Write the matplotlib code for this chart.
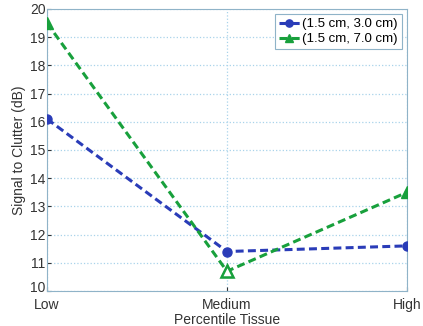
import matplotlib
matplotlib.use("Agg")
import matplotlib.pyplot as plt
import matplotlib.transforms as mtransforms

categories = ["Low", "Medium", "High"]
near_values = [16.1, 11.4, 11.6]
far_values = [19.5, 10.7, 13.5]
series_labels = ["(1.5 cm, 3.0 cm)", "(1.5 cm, 7.0 cm)"]
y_ticks = list(range(10, 21))

plt.rcParams["font.family"] = ["Liberation Sans", "DejaVu Sans"]

fig = plt.figure(figsize=(4.23, 3.26), dpi=100)
ax = fig.add_axes([47 / 423, 1 - 291 / 326, 360 / 423, 282 / 326])

x = list(range(len(categories)))
blue = "#2a3cb8"
green = "#18a03c"

ax.plot(x, near_values, linestyle=(0, (2.6, 1.4)), color=blue, lw=2.2,
        marker="o", markersize=6.5, markerfacecolor=blue, markeredgecolor=blue,
        label=series_labels[0], zorder=3)
ax.plot(x, far_values, linestyle=(0, (2.6, 1.4)), color=green, lw=2.2,
        marker="^", markersize=8, markerfacecolor=green, markeredgecolor=green,
        label=series_labels[1], zorder=3)
# hollow marker for the medium tissue point
ax.plot([x[1]], [far_values[1]], linestyle="none", marker="^", markersize=8,
        markerfacecolor="white", markeredgecolor=green, markeredgewidth=1.8, zorder=4)

ax.set_xlim(0, 2)
ax.set_ylim(10, 20)
ax.set_xticks(x)
ax.set_xticklabels(categories)
ax.set_yticks(y_ticks)
ax.grid(True, linestyle=":", color="#a9d3ea", lw=0.9)
ax.tick_params(direction="in", length=3, labelsize=10, colors="#333333")
ax.tick_params(axis="x", pad=5)
ax.tick_params(axis="y", pad=1)
for s in ax.spines.values():
    s.set_color("#8fb3c8")
ax.set_xlabel("Percentile Tissue", fontsize=10, labelpad=0.5, color="#333333")
ax.set_ylabel("Signal to Clutter (dB)", fontsize=10, labelpad=3, color="#333333")

# lift the bottom y tick label a little so it clears the first category label
fig.canvas.draw()
lift = mtransforms.ScaledTranslation(0, 3 / 72, fig.dpi_scale_trans)
bottom_label = ax.get_yticklabels()[0]
bottom_label.set_transform(bottom_label.get_transform() + lift)

leg = ax.legend(loc="upper right", fontsize=9.5, handlelength=1.6, handletextpad=0.2,
                borderpad=0.3, labelspacing=0.2, fancybox=False, framealpha=1,
                borderaxespad=0.4, markerscale=0.8)
leg.get_frame().set_edgecolor("#8fb3c8")
leg.get_frame().set_linewidth(0.8)

fig.savefig("out.png", dpi=100)
